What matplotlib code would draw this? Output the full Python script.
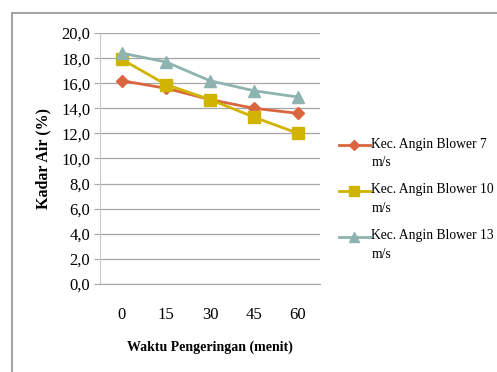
import numpy as np
import matplotlib.pyplot as plt
from matplotlib.patches import Rectangle
from matplotlib.legend_handler import HandlerLine2D

# data
waktu = ["0", "15", "30", "45", "60"]
blower7 = [16.2, 15.6, 14.7, 14.0, 13.6]
blower10 = [17.9, 15.9, 14.7, 13.3, 12.0]
blower13 = [18.4, 17.7, 16.2, 15.4, 14.9]
labels = ["Kec. Angin Blower 7\nm/s", "Kec. Angin Blower 10\nm/s", "Kec. Angin Blower 13\nm/s"]

plt.rcParams['font.family'] = ['Liberation Serif', 'DejaVu Serif']


# legend handle sits next to the first line of the label, not the middle
class TopHandler(HandlerLine2D):
    def create_artists(self, legend, orig_handle, xdescent, ydescent,
                       width, height, fontsize, trans):
        arts = super().create_artists(legend, orig_handle, xdescent, ydescent,
                                      width, height, fontsize, trans)
        for a in arts:
            a.set_ydata(np.asarray(a.get_ydata()) + 0.6 * fontsize)
        return arts


fig = plt.figure(figsize=(4.97, 3.72), dpi=100)
ax = fig.add_axes([0.201, 0.237, 0.443, 0.674])

# outer chart border (only top and left visible)
fig.patches.append(Rectangle((12 / 497, -0.05), 1.2, 1 - 13 / 372 + 0.05,
                             transform=fig.transFigure, fill=False,
                             edgecolor='#a6a6a6', linewidth=1.5))

x = range(len(waktu))
l1, = ax.plot(x, blower7, color='#d9663f', marker='D', markersize=6, linewidth=2, label=labels[0])
l2, = ax.plot(x, blower10, color='#d1b400', marker='s', markersize=9, linewidth=2, label=labels[1])
l3, = ax.plot(x, blower13, color='#8eb4b1', marker='^', markersize=9, linewidth=2, label=labels[2])

ax.set_xlim(-0.5, 4.5)
ax.set_ylim(0, 20)
ax.set_yticks([i * 2 for i in range(11)])
ax.set_yticklabels([f"{i * 2},0" for i in range(11)], fontsize=12)
ax.set_xticks(list(x))
ax.set_xticklabels(waktu, fontsize=12)
ax.tick_params(axis='x', length=0, pad=17)
ax.tick_params(axis='y', length=4, color='#a6a6a6', pad=3)

ax.grid(axis='y', color='#a6a6a6', linewidth=0.9)
ax.set_axisbelow(True)
for s in ['top', 'right']:
    ax.spines[s].set_visible(False)
ax.spines['left'].set_color('#c8c8c8')
ax.spines['bottom'].set_color('#a6a6a6')

ax.set_ylabel("Kadar Air (%)", fontsize=11.5, fontweight='bold', labelpad=7)
ax.set_xlabel("Waktu Pengeringan (menit)", fontsize=10, fontweight='bold', labelpad=12)

h = TopHandler()
leg = ax.legend(loc='upper left', bbox_to_anchor=(1.06, 0.605), frameon=False,
                fontsize=9.8, handlelength=2.3, handletextpad=0.1, labelspacing=1.05,
                borderaxespad=0, markerscale=0.8,
                handler_map={l1: h, l2: h, l3: h})
for t in leg.get_texts():
    t.set_linespacing(1.55)

fig.savefig("out.png", dpi=100)
